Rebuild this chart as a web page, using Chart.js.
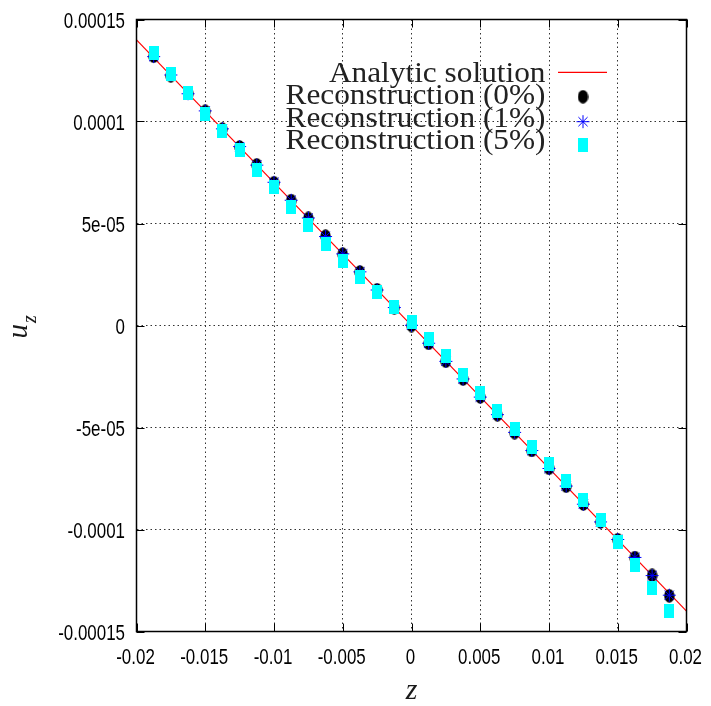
<!DOCTYPE html>
<html>
<head>
<meta charset="utf-8">
<script src="https://cdn.jsdelivr.net/npm/chart.js@4.4.1/dist/chart.umd.min.js"></script>
<style>
  html, body { margin: 0; padding: 0; background: #ffffff; }
  canvas { display: block; }
</style>
</head>
<body>
<canvas id="chart" width="711" height="706"></canvas>
<script>
// Sample positions along z
const zValues = [
  -0.01875, -0.0175, -0.01625, -0.015, -0.01375, -0.0125, -0.01125, -0.01,
  -0.00875, -0.0075, -0.00625, -0.005, -0.00375, -0.0025, -0.00125, 0,
  0.00125, 0.0025, 0.00375, 0.005, 0.00625, 0.0075, 0.00875, 0.01,
  0.01125, 0.0125, 0.01375, 0.015, 0.01625, 0.0175, 0.01875
];

// Reconstructed displacement, noise-free data
const recon0 = [
  1.32e-4, 1.225e-4, 1.1375e-4, 1.05e-4, 9.625e-5, 8.75e-5, 7.875e-5, 7.0e-5,
  6.125e-5, 5.25e-5, 4.375e-5, 3.5e-5, 2.625e-5, 1.75e-5, 8.75e-6, 0,
  -8.75e-6, -1.75e-5, -2.625e-5, -3.5e-5, -4.375e-5, -5.25e-5, -6.125e-5, -7.0e-5,
  -7.875e-5, -8.75e-5, -9.625e-5, -1.05e-4, -1.1375e-4, -1.225e-4, -1.325e-4
];

// Reconstructed displacement, 1% noise
const recon1 = [
  1.318e-4, 1.228e-4, 1.136e-4, 1.052e-4, 9.64e-5, 8.77e-5, 7.86e-5, 7.02e-5,
  6.14e-5, 5.27e-5, 4.36e-5, 3.51e-5, 2.63e-5, 1.74e-5, 8.8e-6, 1.0e-7,
  -8.7e-6, -1.76e-5, -2.62e-5, -3.51e-5, -4.37e-5, -5.24e-5, -6.13e-5, -7.01e-5,
  -7.87e-5, -8.76e-5, -9.63e-5, -1.049e-4, -1.137e-4, -1.226e-4, -1.322e-4
];

// Reconstructed displacement, 5% noise
const recon5 = [
  1.336e-4, 1.235e-4, 1.139e-4, 1.039e-4, 9.52e-5, 8.59e-5, 7.64e-5, 6.77e-5,
  5.83e-5, 4.95e-5, 4.01e-5, 3.18e-5, 2.39e-5, 1.65e-5, 9.2e-6, 1.8e-6,
  -6.6e-6, -1.5e-5, -2.43e-5, -3.31e-5, -4.18e-5, -5.06e-5, -5.96e-5, -6.79e-5,
  -7.62e-5, -8.55e-5, -9.54e-5, -1.06e-4, -1.173e-4, -1.286e-4, -1.398e-4
];

// Analytic solution (straight line) end points
const analyticZ = [-0.02, 0.02];
const analyticU = [0.00014, -0.00014];

// Axis ticks
const xTickValues = [-0.02, -0.015, -0.01, -0.005, 0, 0.005, 0.01, 0.015, 0.02];
const xTickLabels = ['-0.02', '-0.015', '-0.01', '-0.005', '0', '0.005', '0.01', '0.015', '0.02'];
const yTickValues = [-0.00015, -0.0001, -0.00005, 0, 0.00005, 0.0001, 0.00015];
const yTickLabels = ['-0.00015', '-0.0001', '-5e-05', '0', '5e-05', '0.0001', '0.00015'];

const seriesNames = ['Analytic solution', 'Reconstruction (0%)', 'Reconstruction (1%)', 'Reconstruction (5%)'];
const xTitle = 'z';
const yTitleMain = 'u';
const yTitleSub = 'z';

// Marker bitmaps: black ellipse and cyan block
function makeEllipseMarker() {
  const c = document.createElement('canvas');
  c.width = 11; c.height = 14;
  const g = c.getContext('2d');
  g.fillStyle = '#000000';
  g.beginPath();
  g.ellipse(5.5, 7, 5.2, 6.7, 0, 0, Math.PI * 2);
  g.fill();
  return c;
}
function makeBlockMarker() {
  const c = document.createElement('canvas');
  c.width = 10; c.height = 14;
  const g = c.getContext('2d');
  g.fillStyle = '#00ffff';
  g.fillRect(0, 0, 10, 14);
  return c;
}
const ellipseMarker = makeEllipseMarker();
const blockMarker = makeBlockMarker();

function pairs(xs, ys) { return xs.map((x, i) => ({ x: x, y: ys[i] })); }

function drawStar(ctx, x, y, r) {
  const H = Chart.helpers;
  if (H && typeof H.drawPoint === 'function') {
    H.drawPoint(ctx, { pointStyle: 'star', radius: r, borderWidth: 1, rotation: 0 }, x, y);
    return;
  }
  const d = r * Math.SQRT1_2;
  ctx.beginPath();
  ctx.moveTo(x - r, y); ctx.lineTo(x + r, y);
  ctx.moveTo(x, y - r); ctx.lineTo(x, y + r);
  ctx.moveTo(x - d, y - d); ctx.lineTo(x + d, y + d);
  ctx.moveTo(x - d, y + d); ctx.lineTo(x + d, y - d);
  ctx.stroke();
}

// Frame, inward ticks, tick labels, axis titles and key
const decorations = {
  id: 'decorations',
  afterDatasetsDraw(chart) {
    const ctx = chart.ctx;
    const a = chart.chartArea;
    const xs = chart.scales.x, ys = chart.scales.y;
    const tl = 8;
    ctx.save();
    ctx.strokeStyle = '#000000';
    ctx.lineWidth = 1;
    ctx.beginPath();
    xTickValues.forEach(v => {
      const px = Math.round(xs.getPixelForValue(v)) + 0.5;
      ctx.moveTo(px, a.bottom); ctx.lineTo(px, a.bottom - tl);
      ctx.moveTo(px, a.top); ctx.lineTo(px, a.top + tl);
    });
    yTickValues.forEach(v => {
      const py = Math.round(ys.getPixelForValue(v)) + 0.5;
      ctx.moveTo(a.left, py); ctx.lineTo(a.left + tl, py);
      ctx.moveTo(a.right, py); ctx.lineTo(a.right - tl, py);
    });
    ctx.stroke();
    ctx.lineWidth = 1.5;
    ctx.strokeRect(a.left, a.top, a.right - a.left, a.bottom - a.top);
    ctx.restore();
  },
  afterDraw(chart) {
    const ctx = chart.ctx;
    const a = chart.chartArea;
    const xs = chart.scales.x, ys = chart.scales.y;
    const sx = 0.77;

    // tick labels (narrow sans)
    ctx.save();
    ctx.fillStyle = '#000000';
    ctx.font = '22px "Liberation Sans", Arial, sans-serif';
    ctx.textBaseline = 'alphabetic';
    yTickValues.forEach((v, i) => {
      const py = ys.getPixelForValue(v);
      const w = ctx.measureText(yTickLabels[i]).width * sx;
      ctx.save();
      ctx.translate(125 - w, py + 8.4);
      ctx.scale(sx, 1);
      ctx.fillText(yTickLabels[i], 0, 0);
      ctx.restore();
    });
    xTickValues.forEach((v, i) => {
      const px = xs.getPixelForValue(v);
      const w = ctx.measureText(xTickLabels[i]).width * sx;
      ctx.save();
      ctx.translate(px - w / 2 - 1, a.bottom + 32.5);
      ctx.scale(sx, 1);
      ctx.fillText(xTickLabels[i], 0, 0);
      ctx.restore();
    });
    ctx.restore();

    // axis titles
    ctx.save();
    ctx.fillStyle = '#1a1a1a';
    ctx.font = 'italic 30px "Liberation Serif", "DejaVu Serif", serif';
    ctx.textAlign = 'center';
    ctx.textBaseline = 'alphabetic';
    ctx.fillText(xTitle, (a.left + a.right) / 2, 699);
    ctx.restore();

    ctx.save();
    ctx.fillStyle = '#1a1a1a';
    ctx.translate(27, 338.5);
    ctx.rotate(-Math.PI / 2);
    ctx.textBaseline = 'alphabetic';
    ctx.font = 'italic 29px "Liberation Serif", "DejaVu Serif", serif';
    ctx.fillText(yTitleMain, 0, 0);
    const uw = ctx.measureText(yTitleMain).width;
    ctx.font = 'italic 20px "Liberation Serif", "DejaVu Serif", serif';
    ctx.fillText(yTitleSub, uw + 1, 8.5);
    ctx.restore();

    // key
    const textRight = 545.5;
    const baselines = [81.5, 104, 126.5, 149];
    const symX = 583;
    const symY = [72.3, 96.7, 121.7, 145];
    ctx.save();
    ctx.font = '28.5px "Liberation Serif", "Times New Roman", serif';
    ctx.fillStyle = '#222222';
    ctx.textBaseline = 'alphabetic';
    const ksx = 260 / ctx.measureText(seriesNames[1]).width;
    seriesNames.forEach((name, i) => {
      const w = ctx.measureText(name).width * ksx;
      ctx.save();
      ctx.translate(textRight - w, baselines[i]);
      ctx.scale(ksx, 1);
      ctx.fillText(name, 0, 0);
      ctx.restore();
    });
    ctx.restore();

    ctx.save();
    ctx.strokeStyle = '#ff0000';
    ctx.lineWidth = 1.2;
    ctx.beginPath();
    ctx.moveTo(558, symY[0]); ctx.lineTo(607, symY[0]);
    ctx.stroke();
    ctx.drawImage(ellipseMarker, symX - ellipseMarker.width / 2, symY[1] - ellipseMarker.height / 2);
    ctx.strokeStyle = '#0000ff';
    ctx.fillStyle = '#0000ff';
    ctx.lineWidth = 1;
    drawStar(ctx, symX, symY[2], 6.5);
    ctx.drawImage(blockMarker, symX - blockMarker.width / 2, symY[3] - blockMarker.height / 2);
    ctx.restore();
  }
};

new Chart(document.getElementById('chart'), {
  type: 'scatter',
  data: {
    datasets: [
      {
        label: seriesNames[0],
        type: 'line',
        data: pairs(analyticZ, analyticU),
        borderColor: '#ff0000',
        borderWidth: 1.2,
        pointRadius: 0,
        fill: false,
        order: 4
      },
      {
        label: seriesNames[1],
        data: pairs(zValues, recon0),
        pointStyle: ellipseMarker,
        pointRadius: 6,
        order: 3
      },
      {
        label: seriesNames[2],
        data: pairs(zValues, recon1),
        pointStyle: 'star',
        pointRadius: 6.5,
        pointBorderWidth: 1,
        pointBorderColor: '#0000ff',
        pointBackgroundColor: '#0000ff',
        order: 2
      },
      {
        label: seriesNames[3],
        data: pairs(zValues, recon5),
        pointStyle: blockMarker,
        pointRadius: 6,
        order: 1
      }
    ]
  },
  options: {
    responsive: false,
    animation: false,
    events: [],
    layout: { padding: { left: 0, top: 19.5, right: 24.5, bottom: 0 } },
    plugins: { legend: { display: false }, tooltip: { enabled: false } },
    scales: {
      x: {
        type: 'linear',
        min: -0.02,
        max: 0.02,
        afterBuildTicks(scale) { scale.ticks = xTickValues.map(v => ({ value: v })); },
        afterFit(scale) { scale.height = 74.5; },
        ticks: { display: false },
        grid: { color: '#333333', lineWidth: 1, drawTicks: false },
        border: { display: false, dash: [1.5, 3] }
      },
      y: {
        type: 'linear',
        min: -0.00015,
        max: 0.00015,
        afterBuildTicks(scale) { scale.ticks = yTickValues.map(v => ({ value: v })); },
        afterFit(scale) { scale.width = 136.5; },
        ticks: { display: false },
        grid: { color: '#333333', lineWidth: 1, drawTicks: false },
        border: { display: false, dash: [1.5, 3] }
      }
    }
  },
  plugins: [decorations]
});
</script>
</body>
</html>
